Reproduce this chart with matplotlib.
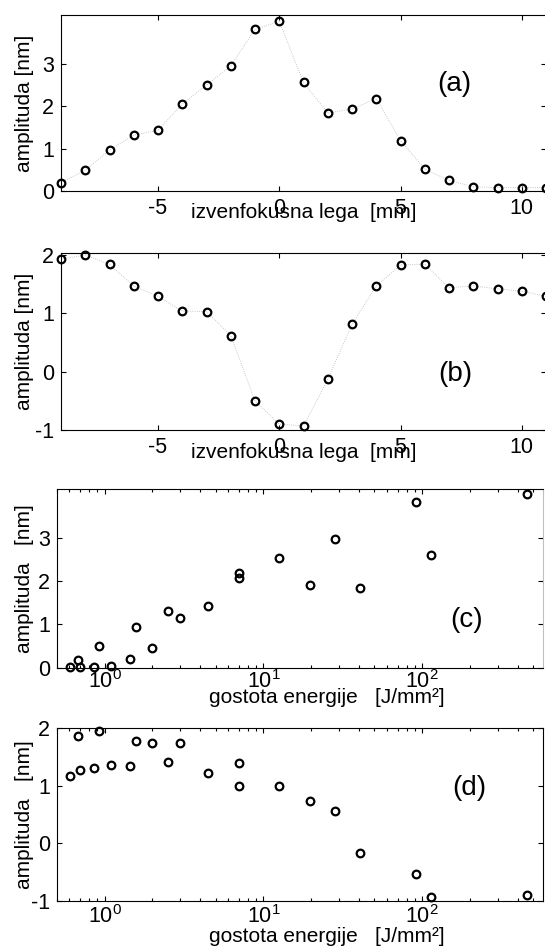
import numpy as np
import matplotlib.pyplot as plt
from matplotlib.ticker import LogLocator, NullFormatter

plt.rcParams['font.family'] = ['Liberation Sans', 'DejaVu Sans']
plt.rcParams['mathtext.default'] = 'regular'
plt.rcParams['axes.unicode_minus'] = False

# defocus position [mm] and amplitudes for panels (a), (b)
defocus = [-9, -8, -7, -6, -5, -4, -3, -2, -1, 0, 1, 2, 3, 4, 5, 6, 7, 8, 9, 10, 11]
amp_a = [0.20, 0.49, 0.96, 1.32, 1.43, 2.05, 2.50, 2.95, 3.81, 4.00, 2.56,
         1.84, 1.93, 2.18, 1.19, 0.52, 0.25, 0.10, 0.08, 0.08, 0.08]
amp_b = [1.93, 2.00, 1.84, 1.47, 1.29, 1.04, 1.03, 0.62, -0.50, -0.90, -0.93,
         -0.13, 0.81, 1.47, 1.83, 1.84, 1.44, 1.47, 1.42, 1.38, 1.29]

# energy density [J/mm^2] and amplitudes for panels (c), (d)
energy = [0.61, 0.68, 0.70, 0.86, 0.92, 1.10, 1.44, 1.57, 1.99, 2.50, 2.97,
          4.51, 7.03, 7.03, 12.5, 19.6, 28.3, 40.3, 91, 113, 456]
amp_c = [0.01, 0.18, 0.01, 0.01, 0.49, 0.04, 0.20, 0.95, 0.45, 1.32, 1.15,
         1.42, 2.08, 2.19, 2.53, 1.92, 2.98, 1.84, 3.82, 2.60, 4.02]
amp_d = [1.17, 1.87, 1.27, 1.31, 1.95, 1.37, 1.34, 1.78, 1.75, 1.41, 1.75,
         1.23, 0.99, 1.40, 0.99, 0.73, 0.57, -0.17, -0.53, -0.93, -0.90]

W, H = 545, 948
fig = plt.figure(figsize=(W / 100, H / 100), dpi=100)


def px_axes(left, top, right, bottom):
    return fig.add_axes([left / W, 1 - bottom / H, (right - left) / W, (bottom - top) / H])


def style(ax, xpad=5):
    ax.tick_params(direction='in', which='both', top=True, right=True,
                   labelsize=15.5, width=0.8, pad=5)
    ax.tick_params(axis='x', which='both', pad=xpad)
    ax.tick_params(which='major', length=3.5)
    ax.tick_params(which='minor', length=2)
    for s in ax.spines.values():
        s.set_linewidth(0.8)


def put_labels(ax, xlabel, ylabel, xl_y, yl_x, xl_x=0.5):
    ax.set_xlabel(xlabel, fontsize=15)
    ax.xaxis.label.set_va('center')
    ax.xaxis.set_label_coords(xl_x, xl_y)
    ax.set_ylabel(ylabel, fontsize=15)
    ax.yaxis.label.set_va('center')
    ax.yaxis.set_label_coords(yl_x, 0.5)


mk = dict(ls='none', marker='o', mfc='none', mec='k', ms=5.5, mew=1.6, clip_on=False, zorder=3)
ln = dict(ls=':', color='0.72', lw=0.6, zorder=2)

# (a)
ax = px_axes(61, 15, 546, 191)
ax.plot(defocus, amp_a, **ln)
ax.plot(defocus, amp_a, **mk)
ax.set_xlim(-9, 11)
ax.set_ylim(0, 4.15)
ax.set_xticks([-5, 0, 5, 10])
ax.set_yticks([0, 1, 2, 3])
style(ax)
put_labels(ax, 'izvenfokusna lega  [mm]', 'amplituda [nm]', -22 / 176, -37 / 485)
fig.text(454 / W, 1 - 84 / H, '(a)', fontsize=20, ha='center', va='center')

# (b)
ax = px_axes(61, 252.7, 546, 430)
ax.plot(defocus, amp_b, **ln)
ax.plot(defocus, amp_b, **mk)
ax.set_xlim(-9, 11)
ax.set_ylim(-1, 2.04)
ax.set_xticks([-5, 0, 5, 10])
ax.set_yticks([-1, 0, 1, 2])
style(ax)
put_labels(ax, 'izvenfokusna lega  [mm]', 'amplituda [nm]', -22 / 177.3, -37 / 485)
fig.text(455 / W, 1 - 374 / H, '(b)', fontsize=20, ha='center', va='center')

# (c)
ax = px_axes(56.7, 489.3, 543, 667.7)
ax.plot(energy, amp_c, **mk)
ax.set_xscale('log')
ax.set_xlim(0.5, 575)
ax.set_ylim(0, 4.12)
ax.set_yticks([0, 1, 2, 3])
ax.xaxis.set_minor_locator(LogLocator(base=10, subs=np.arange(2, 10)))
ax.xaxis.set_minor_formatter(NullFormatter())
style(ax, xpad=2)
ax.spines['right'].set_color('0.75')
put_labels(ax, 'gostota energije   [J/mm²]', 'amplituda   [nm]', -30 / 178.4, -32 / 486.3, 0.556)
fig.text(467 / W, 1 - 620 / H, '(c)', fontsize=20, ha='center', va='center')

# (d)
ax = px_axes(56.7, 728.3, 543, 901)
ax.plot(energy, amp_d, **mk)
ax.set_xscale('log')
ax.set_xlim(0.5, 575)
ax.set_ylim(-1, 2.0)
ax.set_yticks([-1, 0, 1, 2])
ax.xaxis.set_minor_locator(LogLocator(base=10, subs=np.arange(2, 10)))
ax.xaxis.set_minor_formatter(NullFormatter())
style(ax, xpad=3)
put_labels(ax, 'gostota energije   [J/mm²]', 'amplituda   [nm]', -36 / 172.7, -32 / 486.3, 0.556)
fig.text(469 / W, 1 - 788 / H, '(d)', fontsize=20, ha='center', va='center')

fig.savefig('out.png', dpi=100)
